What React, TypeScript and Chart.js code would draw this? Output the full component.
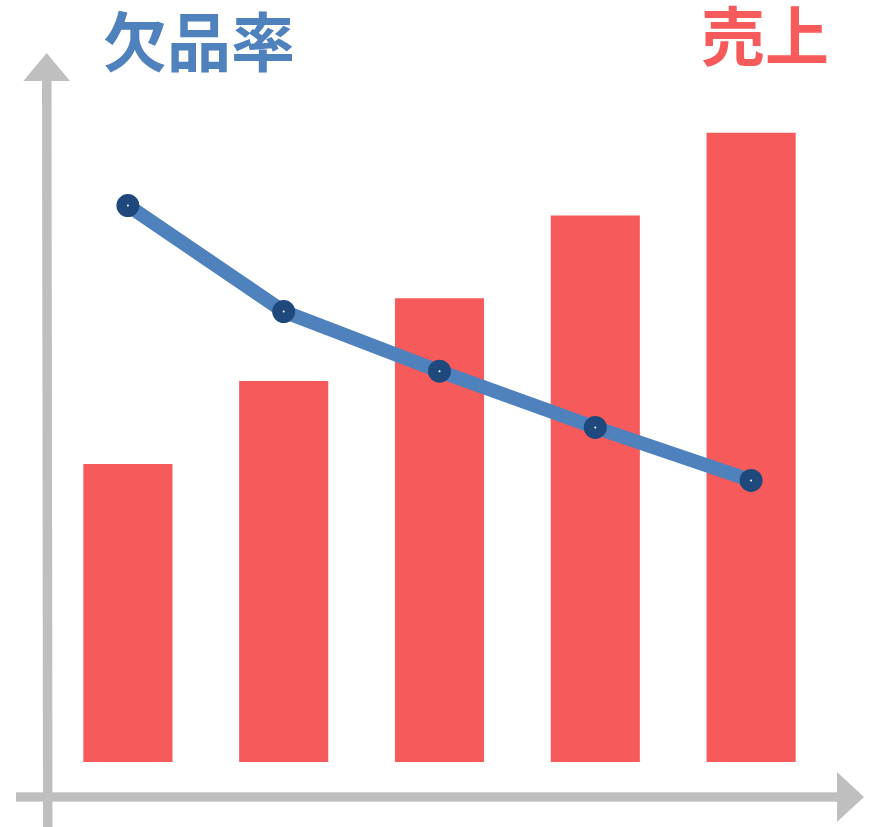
import React, { useEffect, useRef } from "react";
import { Chart, registerables } from "chart.js";

Chart.register(...registerables);

const categories: string[] = ["1", "2", "3", "4", "5"];
const salesValues: number[] = [36, 46, 56, 66, 76];
const stockoutRates: number[] = [8.4, 6.8, 5.9, 5.05, 4.25];
const leftTitle = "欠品率";
const rightTitle = "売上";

const BAR_COLOR = "#F65A5A";
const LINE_COLOR = "#4F81BD";
const POINT_COLOR = "#1F497D";
const AXIS_COLOR = "#BFBFBF";

const decorPlugin = {
  id: "decor",
  beforeDatasetsDraw(chart: any) {
    const ctx = chart.ctx as CanvasRenderingContext2D;
    ctx.save();
    ctx.fillStyle = AXIS_COLOR;
    // vertical axis shaft
    ctx.beginPath();
    ctx.moveTo(42, 80);
    ctx.lineTo(51.5, 80);
    ctx.lineTo(52.5, 827);
    ctx.lineTo(43, 827);
    ctx.closePath();
    ctx.fill();
    // vertical arrow head
    ctx.beginPath();
    ctx.moveTo(46.7, 53);
    ctx.lineTo(70, 81);
    ctx.lineTo(23.3, 81);
    ctx.closePath();
    ctx.fill();
    // horizontal shaft
    ctx.fillRect(16, 792.3, 822, 9.4);
    // horizontal arrow head
    ctx.beginPath();
    ctx.moveTo(864, 797);
    ctx.lineTo(837, 772);
    ctx.lineTo(837, 822);
    ctx.closePath();
    ctx.fill();

    // titles
    ctx.textBaseline = "alphabetic";
    ctx.font = "bold 64px 'Noto Sans CJK JP', sans-serif";
    ctx.fillStyle = LINE_COLOR;
    ctx.textAlign = "left";
    ctx.fillText(leftTitle, 103, 66);
    ctx.fillStyle = BAR_COLOR;
    ctx.fillText(rightTitle, 701, 60);
    ctx.restore();
  },
  afterDatasetsDraw(chart: any) {
    const ctx = chart.ctx as CanvasRenderingContext2D;
    const meta = chart.getDatasetMeta(0);
    ctx.save();
    ctx.fillStyle = "#FFFFFF";
    meta.data.forEach((pt: any) => {
      ctx.beginPath();
      ctx.arc(pt.x, pt.y, 1, 0, Math.PI * 2);
      ctx.fill();
    });
    ctx.restore();
  },
};

export default function App() {
  const canvasRef = useRef<HTMLCanvasElement | null>(null);

  useEffect(() => {
    if (!canvasRef.current) return;
    const chart = new Chart(canvasRef.current, {
      type: "bar",
      data: {
        labels: categories,
        datasets: [
          {
            type: "line",
            label: leftTitle,
            data: stockoutRates,
            yAxisID: "y1",
            borderColor: LINE_COLOR,
            borderWidth: 14,
            backgroundColor: POINT_COLOR,
            pointBackgroundColor: POINT_COLOR,
            pointBorderColor: POINT_COLOR,
            pointBorderWidth: 0,
            pointRadius: 11.5,
            tension: 0,
            order: 0,
          } as any,
          {
            type: "bar",
            label: rightTitle,
            data: salesValues,
            yAxisID: "y",
            backgroundColor: BAR_COLOR,
            borderWidth: 0,
            categoryPercentage: 1,
            barPercentage: 0.572,
            order: 1,
          },
        ],
      },
      options: {
        animation: false,
        responsive: true,
        maintainAspectRatio: false,
        layout: { padding: { left: 50, right: 40, top: 99.6, bottom: 65 } },
        plugins: {
          legend: { display: false },
          tooltip: { enabled: false },
          title: { display: false },
        },
        scales: {
          x: { display: false, offset: true },
          y: { display: false, min: 0, max: 80 },
          y1: { display: false, min: 0, max: 10, position: "right" },
        },
      },
      plugins: [decorPlugin],
    });
    return () => chart.destroy();
  }, []);

  return (
    <div
      style={{
        position: "absolute",
        left: 0,
        top: 0,
        width: 869,
        height: 827,
        background: "#FFFFFF",
      }}
    >
      <canvas ref={canvasRef} />
    </div>
  );
}
